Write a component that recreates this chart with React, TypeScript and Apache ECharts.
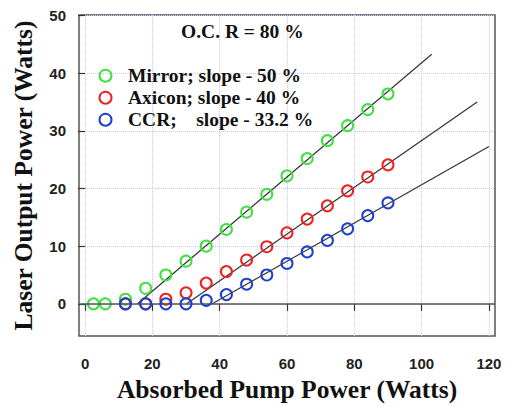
import React, { useEffect, useRef } from "react";
import * as echarts from "echarts";

const xTicks = [0, 20, 40, 60, 80, 100, 120];
const yTicks = [0, 10, 20, 30, 40, 50];

const mirrorX = [2.5, 6, 12, 18, 24, 30, 36, 42, 48, 54, 60, 66, 72, 78, 84, 90];
const mirrorY = [0, 0, 0.8, 2.7, 5.0, 7.4, 10.0, 12.9, 15.9, 19.0, 22.2, 25.2, 28.3, 30.9, 33.7, 36.4];

const axiconX = [12, 18, 24, 30, 36, 42, 48, 54, 60, 66, 72, 78, 84, 90];
const axiconY = [0, 0, 0.8, 1.9, 3.6, 5.6, 7.6, 9.9, 12.3, 14.7, 17.0, 19.6, 22.0, 24.1];

const ccrX = [12, 18, 24, 30, 36, 42, 48, 54, 60, 66, 72, 78, 84, 90];
const ccrY = [0, 0, 0, 0, 0.6, 1.6, 3.4, 5.0, 7.0, 9.0, 11.0, 13.0, 15.3, 17.5];

const mirrorFitX = [15.6, 103];
const mirrorFitY = [0, 43.3];
const axiconFitX = [30.2, 116.5];
const axiconFitY = [0, 35.0];
const ccrFitX = [37.8, 120];
const ccrFitY = [0, 27.3];

const seriesNames = ["Mirror; slope - 50 %", "Axicon; slope - 40 %", "CCR;    slope - 33.2 %"];
const titleText = "O.C. R = 80 %";

const zip = (xs: number[], ys: number[]) => xs.map((x, i) => [x, ys[i]]);

const SERIF = "'Liberation Serif', 'Times New Roman', serif";
const SANS = "'Liberation Sans', Arial, sans-serif";

export default function App() {
  const ref = useRef<HTMLDivElement>(null);
  useEffect(() => {
    document.body.style.margin = "0";
    if (!ref.current) return;
    const chart = echarts.init(ref.current, null, { renderer: "svg" });
    const scatter = (name: string, color: string, xs: number[], ys: number[], z: number) => ({
      name,
      type: "scatter",
      data: zip(xs, ys),
      symbol: "circle",
      symbolSize: 11,
      z,
      itemStyle: { color: "rgba(0,0,0,0)", borderColor: color, borderWidth: 2, opacity: 1 },
    });
    const fit = (xs: number[], ys: number[]) => ({
      type: "line",
      data: zip(xs, ys),
      symbol: "none",
      z: 1,
      lineStyle: { color: "#333", width: 1.2 },
      silent: true,
    });
    chart.setOption({
      animation: false,
      backgroundColor: "#fff",
      title: {
        text: titleText,
        left: 181,
        top: 21,
        padding: 0,
        textStyle: { fontFamily: SERIF, fontWeight: "bold", fontSize: 19.5, color: "#111" },
      },
      legend: {
        data: seriesNames,
        orient: "vertical",
        left: 98.5,
        top: 65.7,
        padding: 0,
        itemWidth: 35,
        itemHeight: 12,
        itemGap: 2,
        textStyle: { fontFamily: SERIF, fontWeight: "bold", fontSize: 19.5, lineHeight: 20, color: "#111" },
      },
      grid: {
        left: 79,
        right: 13,
        top: 15,
        bottom: 65,
        show: true,
        borderColor: "#555",
        borderWidth: 1.5,
        backgroundColor: "transparent",
      },
      xAxis: {
        type: "value",
        min: -1.8,
        max: 121.8,
        offset: 2,
        axisLine: { show: false },
        axisTick: { show: true, length: 7, customValues: xTicks, lineStyle: { color: "#333", width: 1.2 } },
        axisLabel: { customValues: xTicks, margin: 18, fontFamily: SANS, fontSize: 15, fontWeight: "bold", color: "#222" },
        splitLine: { show: true, lineStyle: { color: "#c8c8ff", type: "dotted", width: 1 } },
        name: "Absorbed Pump Power (Watts)",
        nameLocation: "middle",
        nameGap: 33.7,
        nameTextStyle: { fontFamily: SERIF, fontWeight: "bold", fontSize: 25.5, color: "#111" },
      },
      yAxis: {
        type: "value",
        min: -5.6,
        max: 50.1,
        offset: 2,
        axisLine: { show: false },
        axisTick: { show: true, length: 7, customValues: yTicks, lineStyle: { color: "#333", width: 1.2 } },
        axisLabel: { customValues: yTicks, margin: 11, fontFamily: SANS, fontSize: 15, fontWeight: "bold", color: "#222" },
        splitLine: { show: true, lineStyle: { color: "#c8c8ff", type: "dotted", width: 1 } },
        name: "Laser Output Power (Watts)",
        nameLocation: "middle",
        nameGap: 41,
        nameTextStyle: { fontFamily: SERIF, fontWeight: "bold", fontSize: 25.5, color: "#111" },
      },
      series: [
        {
          type: "line",
          data: [],
          silent: true,
          markLine: {
            silent: true,
            symbol: "none",
            label: { show: false },
            lineStyle: { color: "#555", width: 1.5, type: "solid" },
            data: [{ yAxis: 0 }],
          },
        },
        fit(mirrorFitX, mirrorFitY),
        fit(axiconFitX, axiconFitY),
        fit(ccrFitX, ccrFitY),
        scatter(seriesNames[0], "#3fe03f", mirrorX, mirrorY, 3),
        scatter(seriesNames[1], "#f02020", axiconX, axiconY, 4),
        scatter(seriesNames[2], "#1f3fd0", ccrX, ccrY, 5),
      ],
    });
    return () => chart.dispose();
  }, []);
  return <div ref={ref} style={{ width: 508, height: 407 }} />;
}
